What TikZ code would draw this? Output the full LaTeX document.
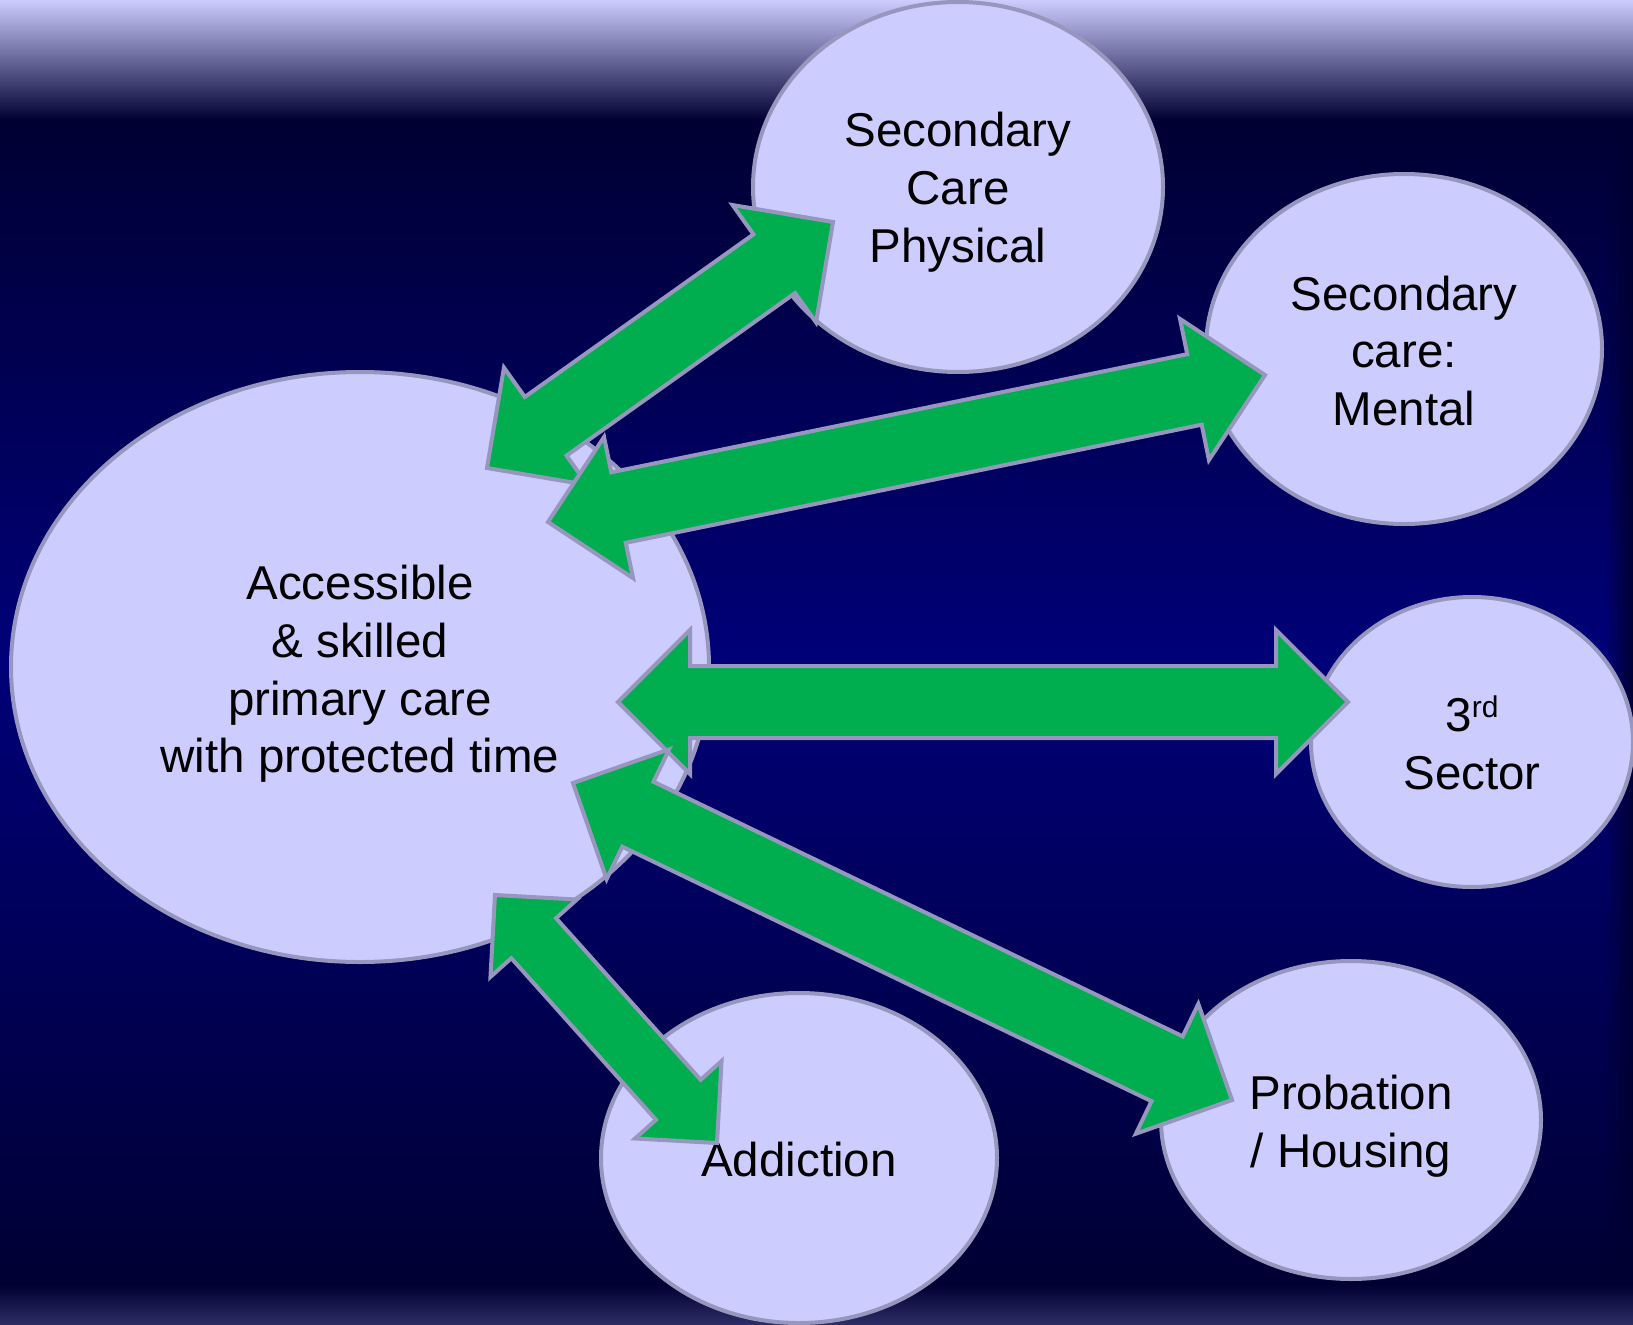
\documentclass[tikz,border=0pt]{standalone}
\usepackage{fontspec}
\setmainfont{Liberation Sans}
\usetikzlibrary{calc, shapes.geometric, fadings}
\definecolor{bgLight}{HTML}{CCCCFF}
\definecolor{bgDark}{HTML}{000033}
\definecolor{bgNavy}{HTML}{000078}
\definecolor{bgFoot}{HTML}{2E2E66}
\definecolor{ovalFill}{HTML}{CCCCFF}
\definecolor{ovalLine}{HTML}{9696BE}
\definecolor{arrowGreen}{HTML}{00AE50}
\tikzset{
    oval/.style={ellipse, draw=ovalLine, fill=ovalFill, line width=4pt, inner sep=0pt},
    ovalText/.style={inner sep=0pt, align=center, font=\fontsize{47.5}{57.8}\selectfont},
    blockArrow/.style={draw=ovalLine, fill=arrowGreen, line width=4pt},
}
\tikzfading[name=fade right, left color=transparent!100, right color=transparent!0]
\newcommand{\dblArrow}[4]{
    % tips #1 and #2, half width of shaft #3, half width of head #4
    \coordinate (ab) at ($(#1)!#4!(#2)$);
    \coordinate (bb) at ($(#2)!#4!(#1)$);
    \draw[blockArrow] (#1) -- ($(ab)!#4!-90:(#1)$) -- ($(ab)!#3!-90:(#1)$)
        -- ($(bb)!#3!90:(#2)$) -- ($(bb)!#4!90:(#2)$) -- (#2)
        -- ($(bb)!#4!-90:(#2)$) -- ($(bb)!#3!-90:(#2)$)
        -- ($(ab)!#3!90:(#1)$) -- ($(ab)!#4!90:(#1)$) -- cycle;
}

\begin{document}
\begin{tikzpicture}[x=1pt, y=-1pt]

        \useasboundingbox (0,0) rectangle (1633,1325);

        % background
        \shade[top color=bgLight, bottom color=bgDark] (0,0) rectangle (1633,120);
        \shade[top color=bgDark, bottom color=bgNavy] (0,120) rectangle (1633,660);
        \shade[top color=bgNavy, bottom color=bgDark] (0,660) rectangle (1633,1285);
        \shade[top color=bgDark, bottom color=bgFoot] (0,1285) rectangle (1633,1325);
        \fill[bgDark, path fading=fade right] (1605,120) rectangle (1633,1285);

        \node[oval, minimum width=698pt, minimum height=590pt] (primary) at (360,667) {};
        \node[oval, minimum width=410pt, minimum height=370pt] (secPhys) at (958,187) {};
        \node[oval, minimum width=396pt, minimum height=350pt] (secMental) at (1404,349) {};
        \node[oval, minimum width=322pt, minimum height=290pt] (third) at (1472,742) {};
        \node[oval, minimum width=380pt, minimum height=318pt] (probation) at (1351,1120) {};
        \node[oval, minimum width=396pt, minimum height=330pt] (addiction) at (799,1158) {};

        \node[ovalText] (primaryText) at ($(primary)+(0,7)$) {Accessible\\\& skilled\\primary care\\with protected time};
        \node[ovalText] (secPhysText) at ($(secPhys)+(0,5)$) {Secondary\\Care\\Physical};
        \node[ovalText] (secMentalText) at ($(secMental)+(0,2)$) {Secondary\\care:\\Mental};
        \node[ovalText] (thirdText) at ($(third)+(0,1)$) {3\raisebox{14pt}{\fontsize{30}{30}\selectfont rd}\\Sector};
        \node[ovalText] (probationText) at ($(probation)+(0,6)$) {Probation\\/ Housing};
        \node[ovalText] (addictionText) at ($(addiction)+(0,2)$) {Addiction};

        \coordinate (phys0) at (487,468);
        \coordinate (phys1) at (833,222);
        \coordinate (ment0) at (548,522);
        \coordinate (ment1) at (1265,375);
        \coordinate (sect0) at (618,702);
        \coordinate (sect1) at (1348,702);
        \coordinate (prob0) at (573,783);
        \coordinate (prob1) at (1232,1100);
        \coordinate (addi0) at (495,895);
        \coordinate (addi1) at (717,1143);

        \dblArrow{phys0}{phys1}{36pt}{72pt}
        \dblArrow{ment0}{ment1}{36pt}{72pt}
        \dblArrow{sect0}{sect1}{36pt}{72pt}
        \dblArrow{prob0}{prob1}{36pt}{72pt}
        \dblArrow{addi0}{addi1}{30pt}{58pt}

    \end{tikzpicture}
\end{document}
